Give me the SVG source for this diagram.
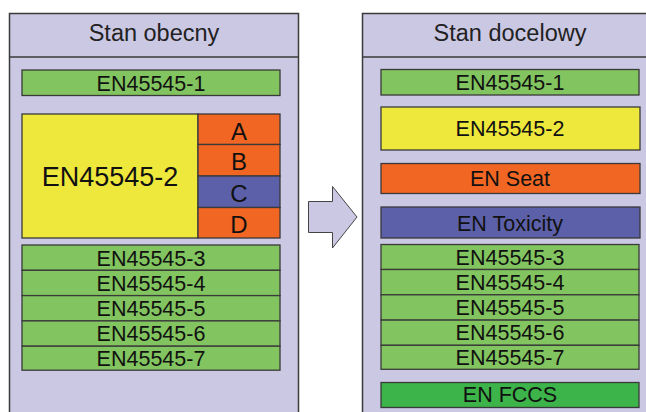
<svg xmlns="http://www.w3.org/2000/svg" width="646" height="412" viewBox="0 0 646 412">
<style>
.panel{fill:#cbc8e4;stroke:#3a3a3a;stroke-width:1.5}
.box{stroke:#3a3a3a;stroke-width:1.3}
.g{fill:#82c45f}
.y{fill:#efe83c}
.o{fill:#f26624}
.b{fill:#5b60a9}
.f{fill:#3cb449}
text{font-family:"Liberation Sans",Arial,sans-serif;fill:#111;text-anchor:middle}
.h{font-size:23.5px;fill:#222}
.t{font-size:21.5px}
.big{font-size:27px}
.l{font-size:24px}
</style>
<rect width="646" height="412" fill="#ffffff"/>
<g id="panel-left">
<rect class="panel" x="9.5" y="13.5" width="289" height="410"/>
<line x1="9.5" y1="57" x2="298.5" y2="57" stroke="#3a3a3a" stroke-width="1.5"/>
<text class="h" x="154" y="40.5">Stan obecny</text>
</g>
<g id="l-en1"><rect class="box g" x="22" y="70" width="258" height="25.5"/><text class="t" x="151" y="90.5">EN45545-1</text></g>
<g id="l-en2"><rect class="box y" x="22" y="114" width="176" height="124"/><text class="big" x="110" y="186">EN45545-2</text></g>
<g id="l-a"><rect class="box o" x="198" y="114" width="82" height="30.5"/><text class="l" x="239" y="140">A</text></g>
<g id="l-b"><rect class="box o" x="198" y="144.5" width="82" height="31.5"/><text class="l" x="239" y="170">B</text></g>
<g id="l-c"><rect class="box b" x="198" y="176" width="82" height="31.5"/><text class="l" x="239" y="201.5">C</text></g>
<g id="l-d"><rect class="box o" x="198" y="207.5" width="82" height="30.5"/><text class="l" x="239" y="232.5">D</text></g>
<g id="l-en3"><rect class="box g" x="22" y="245" width="258" height="25.3"/><text class="t" x="151" y="265.5">EN45545-3</text></g>
<g id="l-en4"><rect class="box g" x="22" y="270.3" width="258" height="25.3"/><text class="t" x="151" y="290.8">EN45545-4</text></g>
<g id="l-en5"><rect class="box g" x="22" y="295.6" width="258" height="25.3"/><text class="t" x="151" y="316">EN45545-5</text></g>
<g id="l-en6"><rect class="box g" x="22" y="320.9" width="258" height="25.3"/><text class="t" x="151" y="341.3">EN45545-6</text></g>
<g id="l-en7"><rect class="box g" x="22" y="346.2" width="258" height="24"/><text class="t" x="151" y="365.8">EN45545-7</text></g>

<g id="connectors">
<polygon points="308.5,201.5 332.5,201.5 332.5,186.5 357,217 332.5,248 332.5,232.5 308.5,232.5" fill="#cbc8e4" stroke="#444" stroke-width="1"/>
</g>

<g id="panel-right">
<rect class="panel" x="362.5" y="13.5" width="300" height="410"/>
<line x1="362.5" y1="57" x2="646" y2="57" stroke="#3a3a3a" stroke-width="1.5"/>
<text class="h" x="510" y="40.5">Stan docelowy</text>
</g>
<g id="r-en1"><rect class="box g" x="381" y="69.5" width="258" height="25.5"/><text class="t" x="510" y="90">EN45545-1</text></g>
<g id="r-en2"><rect class="box y" x="381" y="107" width="259" height="43"/><text class="t" x="510" y="136">EN45545-2</text></g>
<g id="r-seat"><rect class="box o" x="381" y="163.5" width="259" height="30"/><text class="t" x="510" y="186">EN Seat</text></g>
<g id="r-tox"><rect class="box b" x="381" y="207" width="259" height="31"/><text class="t" x="510" y="230.5">EN Toxicity</text></g>
<g id="r-en3"><rect class="box g" x="381" y="244.5" width="258" height="25"/><text class="t" x="510" y="264.5">EN45545-3</text></g>
<g id="r-en4"><rect class="box g" x="381" y="269.5" width="258" height="25.3"/><text class="t" x="510" y="290">EN45545-4</text></g>
<g id="r-en5"><rect class="box g" x="381" y="294.8" width="258" height="25.3"/><text class="t" x="510" y="315">EN45545-5</text></g>
<g id="r-en6"><rect class="box g" x="381" y="320.1" width="258" height="25.2"/><text class="t" x="510" y="340">EN45545-6</text></g>
<g id="r-en7"><rect class="box g" x="381" y="345.3" width="258" height="24"/><text class="t" x="510" y="364.5">EN45545-7</text></g>
<g id="r-fccs"><rect class="box f" x="381" y="382.5" width="258" height="25"/><text class="t" x="510" y="402">EN FCCS</text></g>
</svg>
